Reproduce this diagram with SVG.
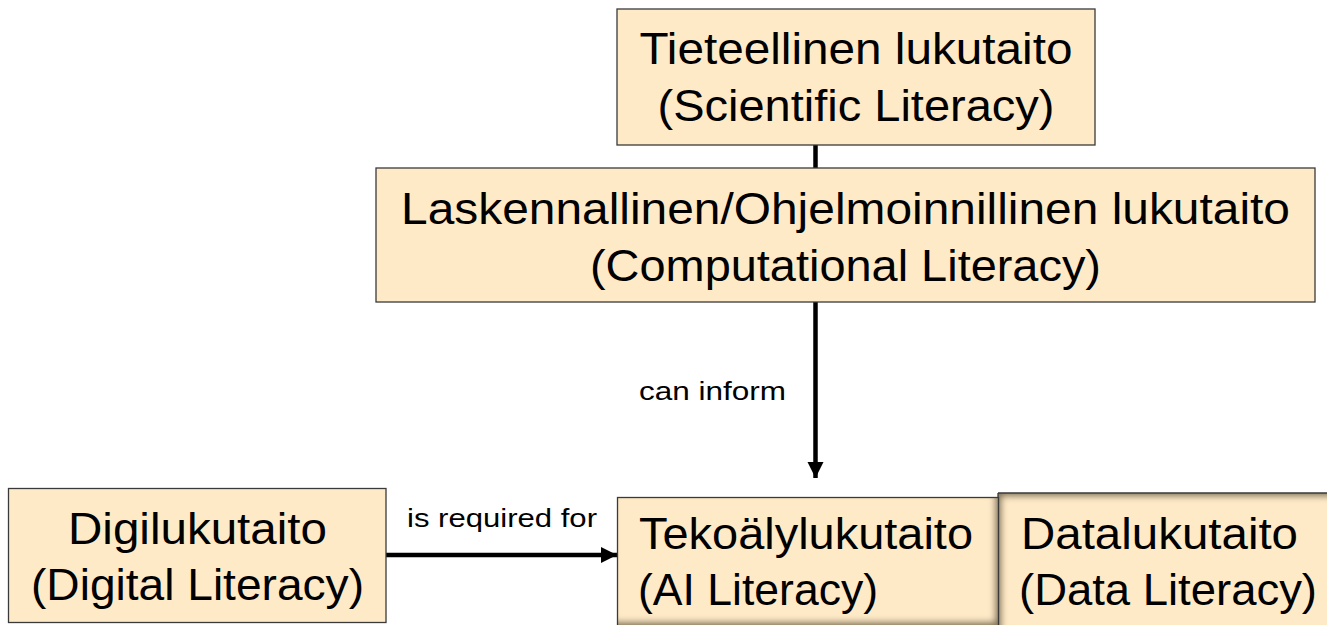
<svg xmlns="http://www.w3.org/2000/svg" width="1327" height="625" viewBox="0 0 1327 625">
<style>
.box{fill:#FFEAC7;stroke:#3a3a3a;stroke-width:1.3}
.t{font-family:"Liberation Sans",Arial,sans-serif;font-size:44px;fill:#000}
.c{text-anchor:middle}
.lbl{font-family:"Liberation Sans",Arial,sans-serif;font-size:25px;fill:#000}
.conn{stroke:#000;stroke-width:4.5;fill:none}
</style>
<defs>
<marker id="ah" viewBox="0 0 10 10" refX="10" refY="5" markerWidth="3.6" markerHeight="3.6" markerUnits="strokeWidth" orient="auto">
<path d="M0,0 L10,5 L0,10 Z" fill="#000"/>
</marker>
<filter id="insetBR" x="-5%" y="-10%" width="110%" height="120%">
<feFlood flood-color="#5a4a2a" flood-opacity="0.85" result="f"/>
<feComposite in="f" in2="SourceAlpha" operator="out" result="o"/>
<feOffset in="o" dx="-4" dy="-4" result="oo"/>
<feGaussianBlur in="oo" stdDeviation="3" result="b"/>
<feComposite in="b" in2="SourceAlpha" operator="in" result="s"/>
<feMerge><feMergeNode in="SourceGraphic"/><feMergeNode in="s"/></feMerge>
</filter>
<filter id="insetTL" x="-5%" y="-10%" width="110%" height="120%">
<feFlood flood-color="#5a4a2a" flood-opacity="0.85" result="f"/>
<feComposite in="f" in2="SourceAlpha" operator="out" result="o"/>
<feOffset in="o" dx="4" dy="4" result="oo"/>
<feGaussianBlur in="oo" stdDeviation="3" result="b"/>
<feComposite in="b" in2="SourceAlpha" operator="in" result="s"/>
<feMerge><feMergeNode in="SourceGraphic"/><feMergeNode in="s"/></feMerge>
</filter>
</defs>
<rect width="1327" height="625" fill="#fff"/>

<g id="connectors">
<line class="conn" x1="815.5" y1="145" x2="815.5" y2="168"/>
<line class="conn" x1="815.5" y1="302" x2="815.5" y2="478" marker-end="url(#ah)"/>
<line class="conn" x1="386" y1="555" x2="617" y2="555" marker-end="url(#ah)"/>
<text class="lbl" x="639" y="400" textLength="147" lengthAdjust="spacingAndGlyphs">can inform</text>
<text class="lbl" x="407" y="527" textLength="190" lengthAdjust="spacingAndGlyphs">is required for</text>
</g>

<g id="scientific">
<rect class="box" x="617" y="9" width="478" height="136"/>
<text class="t c" x="856" y="64" textLength="433" lengthAdjust="spacingAndGlyphs">Tieteellinen lukutaito</text>
<text class="t c" x="856" y="121" textLength="397" lengthAdjust="spacingAndGlyphs">(Scientific Literacy)</text>
</g>

<g id="computational">
<rect class="box" x="376" y="168" width="939" height="134"/>
<text class="t c" x="845.5" y="224" textLength="889" lengthAdjust="spacingAndGlyphs">Laskennallinen/Ohjelmoinnillinen lukutaito</text>
<text class="t c" x="845.5" y="281" textLength="511" lengthAdjust="spacingAndGlyphs">(Computational Literacy)</text>
</g>

<g id="digital">
<rect class="box" x="8.5" y="488.5" width="377.5" height="134"/>
<text class="t c" x="197.5" y="544" textLength="259" lengthAdjust="spacingAndGlyphs">Digilukutaito</text>
<text class="t c" x="197.5" y="600" textLength="333" lengthAdjust="spacingAndGlyphs">(Digital Literacy)</text>
</g>

<g id="data">
<rect x="998" y="493" width="340" height="140" fill="#FFEAC7" filter="url(#insetTL)"/>
<line x1="998" y1="493" x2="1327" y2="493" stroke="#3a3a3a" stroke-width="1.3"/>
<line x1="998" y1="493" x2="998" y2="625" stroke="#3a3a3a" stroke-width="1.3"/>
<text class="t" x="1021" y="549" textLength="277" lengthAdjust="spacingAndGlyphs">Datalukutaito</text>
<text class="t" x="1019" y="605" textLength="298" lengthAdjust="spacingAndGlyphs">(Data Literacy)</text>
</g>

<g id="ai">
<rect x="617.5" y="497.5" width="381" height="128" fill="#FFEAC7" filter="url(#insetBR)"/>
<rect x="617.5" y="497.5" width="381" height="140" fill="none" stroke="#3a3a3a" stroke-width="1.3"/>
<text class="t" x="639" y="549" textLength="334" lengthAdjust="spacingAndGlyphs">Tekoälylukutaito</text>
<text class="t" x="638" y="605" textLength="240" lengthAdjust="spacingAndGlyphs">(AI Literacy)</text>
</g>
</svg>
